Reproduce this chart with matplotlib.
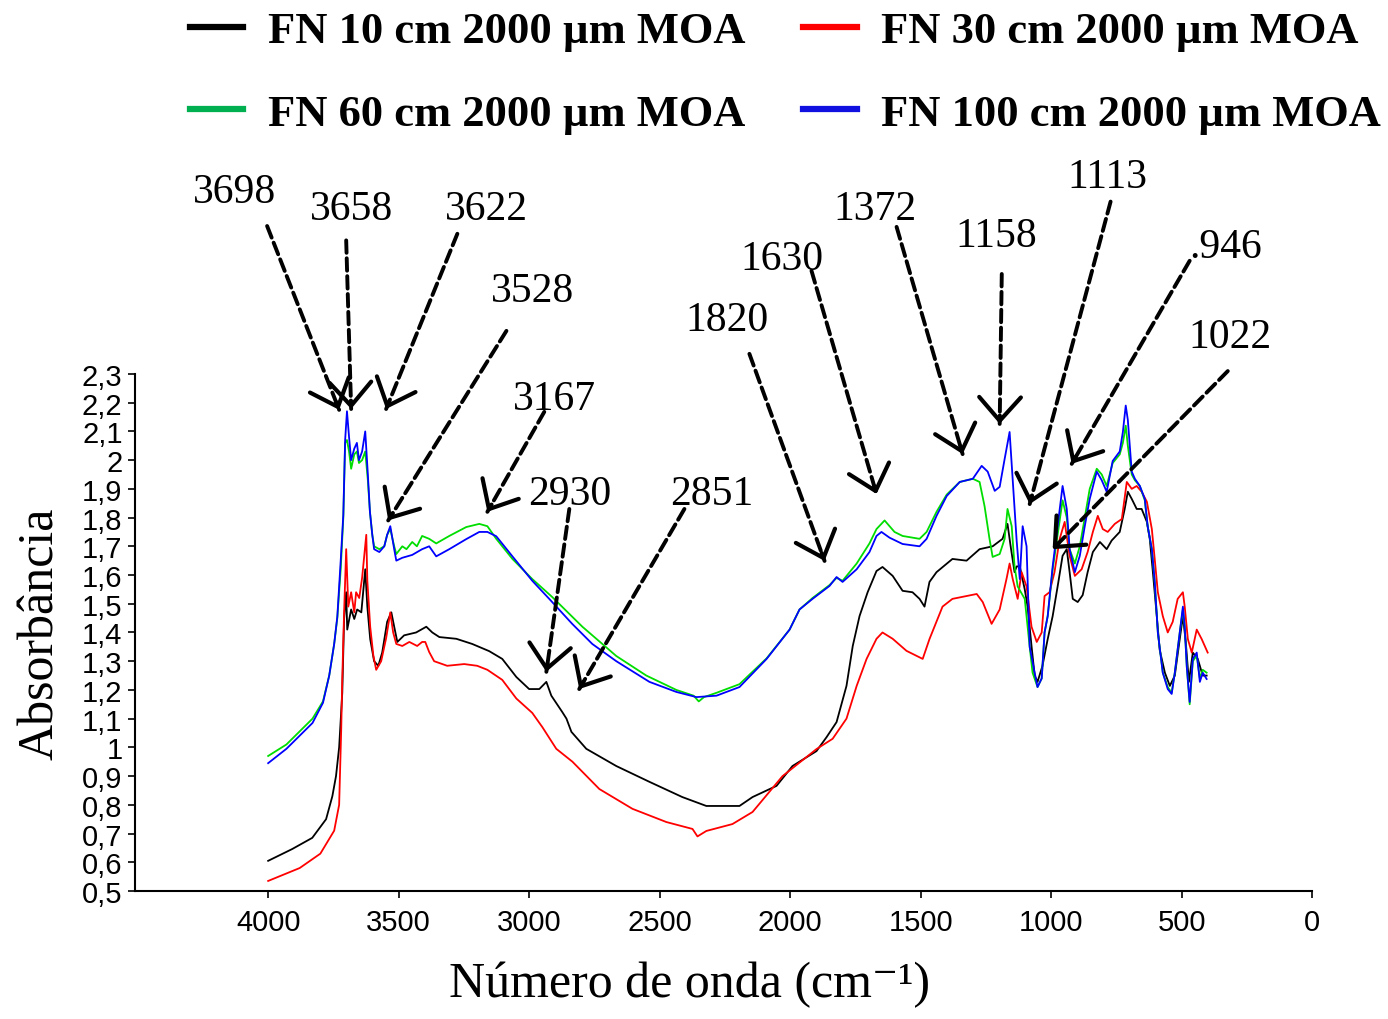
import numpy as np
import matplotlib.pyplot as plt
from matplotlib.ticker import FuncFormatter

# spectra: wavenumber (cm-1) and absorbance
wn_fn10 = [4000, 3908, 3831, 3778, 3754, 3740, 3728, 3716, 3709, 3701, 3697, 3682, 3670, 3659,
           3643, 3628, 3620, 3609, 3594, 3578, 3563, 3544, 3528, 3517, 3505, 3479, 3433, 3394,
           3371, 3344, 3279, 3218, 3153, 3103, 3049, 3000, 2961, 2934, 2915, 2873, 2857, 2838,
           2781, 2666, 2539, 2413, 2321, 2194, 2144, 2052, 1991, 1899, 1860, 1822, 1784, 1760,
           1734, 1703, 1669, 1646, 1607, 1569, 1531, 1504, 1485, 1466, 1439, 1378, 1324, 1274,
           1224, 1186, 1167, 1155, 1140, 1132, 1120, 1101, 1090, 1075, 1063, 1052, 1033, 1013,
           994, 975, 956, 940, 929, 917, 898, 879, 860, 840, 813, 787, 768, 737, 718, 706, 691,
           672, 653, 633, 622, 610, 595, 584, 564, 545, 526, 507, 495, 484, 472, 457, 438, 419, 404]
abs_fn10 = [0.605, 0.646, 0.685, 0.75, 0.83, 0.90, 1.0, 1.19, 1.447, 1.54, 1.41, 1.48, 1.447, 1.48,
            1.47, 1.62, 1.49, 1.377, 1.30, 1.284, 1.33, 1.437, 1.47, 1.42, 1.367, 1.39, 1.40, 1.42,
            1.40, 1.384, 1.378, 1.36, 1.335, 1.308, 1.245, 1.203, 1.203, 1.228, 1.18, 1.123, 1.10, 1.054,
            0.995, 0.935, 0.88, 0.827, 0.796, 0.796, 0.827, 0.866, 0.935, 0.987, 1.036, 1.088, 1.214, 1.353,
            1.457, 1.54, 1.614, 1.628, 1.597, 1.545, 1.54, 1.517, 1.49, 1.576, 1.61, 1.656, 1.65, 1.69,
            1.70, 1.726, 1.778, 1.70, 1.61, 1.63, 1.63, 1.55, 1.49, 1.353, 1.25, 1.228, 1.284, 1.377,
            1.457, 1.56, 1.667, 1.69, 1.61, 1.517, 1.506, 1.53, 1.61, 1.68, 1.715, 1.69, 1.72, 1.75, 1.83, 1.89, 1.865,
            1.83, 1.83, 1.785, 1.726, 1.61, 1.457, 1.34, 1.26, 1.214, 1.25, 1.377, 1.457, 1.367, 1.228, 1.33, 1.308, 1.25, 1.25]

wn_fn30 = [4000, 3879, 3800, 3747, 3728, 3720, 3716, 3709, 3701, 3693, 3682, 3670, 3663, 3651,
           3640, 3624, 3620, 3609, 3597, 3586, 3567, 3548, 3532, 3521, 3509, 3486, 3459, 3429,
           3410, 3398, 3383, 3364, 3314, 3249, 3199, 3160, 3103, 3049, 2988, 2949, 2896, 2834,
           2731, 2604, 2474, 2374, 2355, 2321, 2221, 2144, 2029, 1899, 1837, 1784, 1745, 1707,
           1669, 1646, 1607, 1554, 1492, 1466, 1416, 1378, 1285, 1262, 1228, 1197, 1170, 1159,
           1147, 1128, 1113, 1094, 1075, 1055, 1036, 1025, 1006, 987, 967, 948, 929, 909, 883,
           860, 840, 821, 802, 783, 756, 729, 710, 691, 672, 653, 633, 614, 603, 591, 572, 553,
           534, 515, 495, 488, 476, 461, 442, 423, 400]
abs_fn30 = [0.535, 0.58, 0.63, 0.71, 0.80, 1.064, 1.24, 1.47, 1.69, 1.49, 1.54, 1.47, 1.54, 1.52,
            1.59, 1.74, 1.58, 1.42, 1.32, 1.27, 1.30, 1.38, 1.47, 1.40, 1.36, 1.353, 1.367, 1.353,
            1.367, 1.367, 1.332, 1.30, 1.284, 1.29, 1.284, 1.27, 1.235, 1.17, 1.12, 1.07, 0.995, 0.95,
            0.855, 0.786, 0.74, 0.716, 0.69, 0.709, 0.733, 0.775, 0.90, 0.994, 1.03, 1.10, 1.214, 1.308,
            1.378, 1.40, 1.378, 1.336, 1.308, 1.377, 1.49, 1.517, 1.534, 1.506, 1.43, 1.48, 1.59, 1.64,
            1.586, 1.517, 1.61, 1.56, 1.42, 1.367, 1.40, 1.527, 1.54, 1.61, 1.726, 1.785, 1.667, 1.597, 1.62,
            1.68, 1.75, 1.806, 1.76, 1.75, 1.778, 1.795, 1.924, 1.90, 1.91, 1.89, 1.855, 1.76, 1.656, 1.54, 1.457, 1.40,
            1.437, 1.517, 1.54, 1.49, 1.377, 1.33, 1.41, 1.377, 1.33]

wn_fn60 = [4000, 3930, 3830, 3790, 3766, 3747, 3735, 3722, 3712, 3705, 3698, 3690, 3682, 3670,
           3660, 3652, 3640, 3628, 3618, 3610, 3601, 3594, 3574, 3555, 3544, 3532, 3517, 3509,
           3486, 3470, 3448, 3430, 3410, 3383, 3356, 3306, 3241, 3191, 3160, 3126, 3064, 2988,
           2911, 2796, 2666, 2551, 2436, 2370, 2350, 2330, 2282, 2194, 2090, 2002, 1964, 1914,
           1849, 1822, 1799, 1745, 1696, 1669, 1638, 1600, 1569, 1504, 1477, 1439, 1400, 1350,
           1300, 1274, 1255, 1236, 1224, 1197, 1178, 1167, 1151, 1140, 1128, 1101, 1082, 1071,
           1052, 1036, 1025, 1013, 994, 975, 956, 940, 929, 909, 890, 871, 852, 825, 806, 787,
           764, 737, 725, 714, 706, 691, 679, 660, 641, 630, 614, 603, 591, 572, 553, 538, 526,
           507, 495, 488, 480, 469, 457, 442, 430, 419, 404]
abs_fn60 = [0.97, 1.01, 1.10, 1.16, 1.25, 1.36, 1.45, 1.62, 1.80, 2.06, 2.07, 2.03, 1.97, 2.02,
            2.03, 1.99, 2.00, 2.03, 1.93, 1.82, 1.74, 1.70, 1.69, 1.70, 1.74, 1.76, 1.70, 1.673,
            1.70, 1.69, 1.715, 1.70, 1.736, 1.726, 1.71, 1.736, 1.767, 1.778, 1.77, 1.726, 1.656, 1.586,
            1.523, 1.42, 1.318, 1.25, 1.20, 1.18, 1.16, 1.175, 1.19, 1.22, 1.31, 1.41, 1.48, 1.52,
            1.565, 1.59, 1.58, 1.64, 1.71, 1.76, 1.79, 1.75, 1.736, 1.726, 1.75, 1.82, 1.88, 1.924,
            1.935, 1.924, 1.84, 1.726, 1.663, 1.673, 1.726, 1.83, 1.77, 1.63, 1.56, 1.517, 1.35, 1.26,
            1.21, 1.24, 1.40, 1.457, 1.62, 1.74, 1.86, 1.80, 1.69, 1.64, 1.70, 1.80, 1.90, 1.97, 1.95, 1.91,
            1.99, 2.02, 2.06, 2.12, 2.05, 1.95, 1.93, 1.91, 1.86, 1.77, 1.69, 1.576, 1.40, 1.26, 1.21, 1.19, 1.26,
            1.40, 1.48, 1.42, 1.28, 1.15, 1.30, 1.32, 1.24, 1.27, 1.26]

wn_fn100 = [4000, 3930, 3830, 3790, 3766, 3747, 3735, 3722, 3712, 3705, 3698, 3690, 3682, 3670,
            3660, 3652, 3640, 3628, 3618, 3610, 3601, 3594, 3574, 3555, 3544, 3532, 3517, 3509,
            3486, 3448, 3410, 3383, 3356, 3306, 3241, 3191, 3160, 3126, 3064, 2988, 2923, 2835,
            2758, 2666, 2539, 2436, 2359, 2282, 2194, 2090, 2002, 1964, 1914, 1849, 1822, 1799,
            1745, 1696, 1669, 1650, 1619, 1569, 1504, 1477, 1439, 1400, 1350, 1300, 1266, 1243,
            1216, 1197, 1178, 1159, 1147, 1132, 1120, 1109, 1094, 1082, 1063, 1052, 1036, 1025,
            1013, 994, 975, 956, 940, 929, 909, 890, 871, 852, 825, 806, 787, 764, 737, 725, 714,
            706, 691, 679, 660, 641, 630, 614, 603, 591, 572, 553, 538, 526, 507, 495, 488, 480,
            469, 457, 442, 430, 419, 404]
abs_fn100 = [0.945, 0.995, 1.085, 1.155, 1.25, 1.36, 1.455, 1.65, 1.81, 2.07, 2.17, 2.08, 2.00, 2.04,
             2.06, 2.00, 2.03, 2.10, 1.95, 1.82, 1.74, 1.69, 1.68, 1.70, 1.74, 1.77, 1.69, 1.65,
             1.66, 1.67, 1.69, 1.70, 1.665, 1.69, 1.725, 1.75, 1.75, 1.735, 1.665, 1.58, 1.517, 1.43,
             1.36, 1.30, 1.228, 1.193, 1.175, 1.18, 1.21, 1.308, 1.41, 1.48, 1.517, 1.562, 1.593, 1.576,
             1.62, 1.68, 1.736, 1.75, 1.73, 1.708, 1.70, 1.726, 1.806, 1.875, 1.924, 1.935, 1.98, 1.96,
             1.893, 1.907, 2.004, 2.098, 1.93, 1.72, 1.586, 1.77, 1.70, 1.35, 1.26, 1.21, 1.24, 1.40,
             1.457, 1.63, 1.77, 1.91, 1.83, 1.69, 1.61, 1.667, 1.77, 1.865, 1.96, 1.93, 1.89, 1.997, 2.03, 2.098, 2.19,
             2.14, 1.96, 1.935, 1.91, 1.865, 1.77, 1.69, 1.576, 1.40, 1.26, 1.203, 1.186, 1.26, 1.40, 1.49, 1.42, 1.28,
             1.158, 1.308, 1.33, 1.228, 1.26, 1.238]

LABELS = ['FN 10 cm 2000 µm MOA', 'FN 30 cm 2000 µm MOA',
          'FN 60 cm 2000 µm MOA', 'FN 100 cm 2000 µm MOA']
COLORS = ['black', '#ff0000', '#00dd00', '#0000ff']
LEGEND_COLORS = ['black', '#ff0000', '#00b050', '#1010e0']

# peak labels: text, label centre, arrow tail, arrow tip  (wavenumber, absorbance)
PEAKS = [
    ('3698', (4130, 2.934), (4004, 2.815), (3728, 2.175)),
    ('3658', (3682, 2.875), (3701, 2.765), (3682, 2.178)),
    ('3622', (3164, 2.875), (3275, 2.788), (3548, 2.178)),
    ('3528', (2988, 2.589), (3087, 2.45), (3540, 1.79)),
    ('3167', (2903, 2.213), (2942, 2.168), (3160, 1.82)),
    ('2930', (2846, 1.882), (2846, 1.83), (2934, 1.263)),
    ('2851', (2301, 1.882), (2405, 1.83), (2808, 1.203)),
    ('1820', (2240, 2.49), (2156, 2.37), (1868, 1.649)),
    ('1630', (2033, 2.70), (1918, 2.659), (1669, 1.882)),
    ('1372', (1676, 2.875), (1592, 2.812), (1339, 2.021)),
    ('1158', (1209, 2.78), (1189, 2.648), (1197, 2.126)),
    ('1113', (783, 2.986), (772, 2.90), (1082, 1.847)),
    ('.946', (330, 2.742), (469, 2.694), (921, 1.987)),
    ('1022', (315, 2.429), (323, 2.31), (994, 1.69)),
]

fig = plt.figure(figsize=(13.88, 10.20), dpi=100)
ax = fig.add_axes([0.0973, 0.1255, 0.848, 0.5069])

lines = []
for wn, ab, lab, col in zip([wn_fn10, wn_fn30, wn_fn60, wn_fn100],
                            [abs_fn10, abs_fn30, abs_fn60, abs_fn100], LABELS, COLORS):
    ln, = ax.plot(wn, ab, color=col, lw=1.3, label=lab)
    lines.append(ln)

ax.set_xlim(4510, 0)
ax.set_ylim(0.5, 2.3)
ax.set_xticks(np.arange(4000, -1, -500))
ax.set_yticks(np.round(np.arange(0.5, 2.31, 0.1), 1))
ax.yaxis.set_major_formatter(FuncFormatter(lambda v, p: ('%g' % round(v, 1)).replace('.', ',')))
ax.tick_params(direction='out', length=5, width=1.2, labelsize=21, pad=4)
ax.tick_params(axis='x', pad=7)
for t in ax.get_xticklabels() + ax.get_yticklabels():
    t.set_family('Liberation Sans')
for s in ['top', 'right']:
    ax.spines[s].set_visible(False)
for s in ['left', 'bottom']:
    ax.spines[s].set_linewidth(1.5)

ax.set_xlabel('Número de onda (cm⁻¹)', fontsize=36, family=['Liberation Serif', 'DejaVu Serif'])
ax.xaxis.set_label_coords(0.4707, -0.135)
ax.set_ylabel('Absorbância', fontsize=36, family='Liberation Serif')
ax.yaxis.set_label_coords(-0.06, 0.5)

# peak annotations: dashed shaft + solid open head
for txt, pos, tail, tip in PEAKS:
    ax.text(pos[0], pos[1], txt, ha='center', va='center', fontsize=30,
            family='Liberation Serif', clip_on=False)
    ax.annotate('', xy=tip, xytext=tail, annotation_clip=False,
                arrowprops=dict(arrowstyle='-', lw=2.8, linestyle=(0, (3.2, 1.4)),
                                color='black', shrinkA=0, shrinkB=0))
    p_tip = ax.transData.transform(tip)
    p_tail = ax.transData.transform(tail)
    d = (p_tail - p_tip) / np.hypot(*(p_tail - p_tip))
    ax.annotate('', xy=tip, xytext=(6 * d[0], 6 * d[1]), textcoords='offset points',
                annotation_clip=False,
                arrowprops=dict(arrowstyle='->,head_length=0.85,head_width=0.75', lw=3.0,
                                color='black', shrinkA=0, shrinkB=0, mutation_scale=20))

leg = fig.legend(handles=[lines[0], lines[2], lines[1], lines[3]], ncol=2,
                 loc='upper left', bbox_to_anchor=(0.137, 0.988), frameon=False,
                 prop={'family': 'Liberation Serif', 'weight': 'bold', 'size': 32},
                 handlelength=1.2, handletextpad=0.55, columnspacing=1.3,
                 labelspacing=0.95, borderpad=0, borderaxespad=0)
for h, c in zip(leg.get_lines(), [LEGEND_COLORS[0], LEGEND_COLORS[2], LEGEND_COLORS[1], LEGEND_COLORS[3]]):
    h.set_linewidth(4.5)
    h.set_color(c)

fig.savefig('out.png', dpi=100)
